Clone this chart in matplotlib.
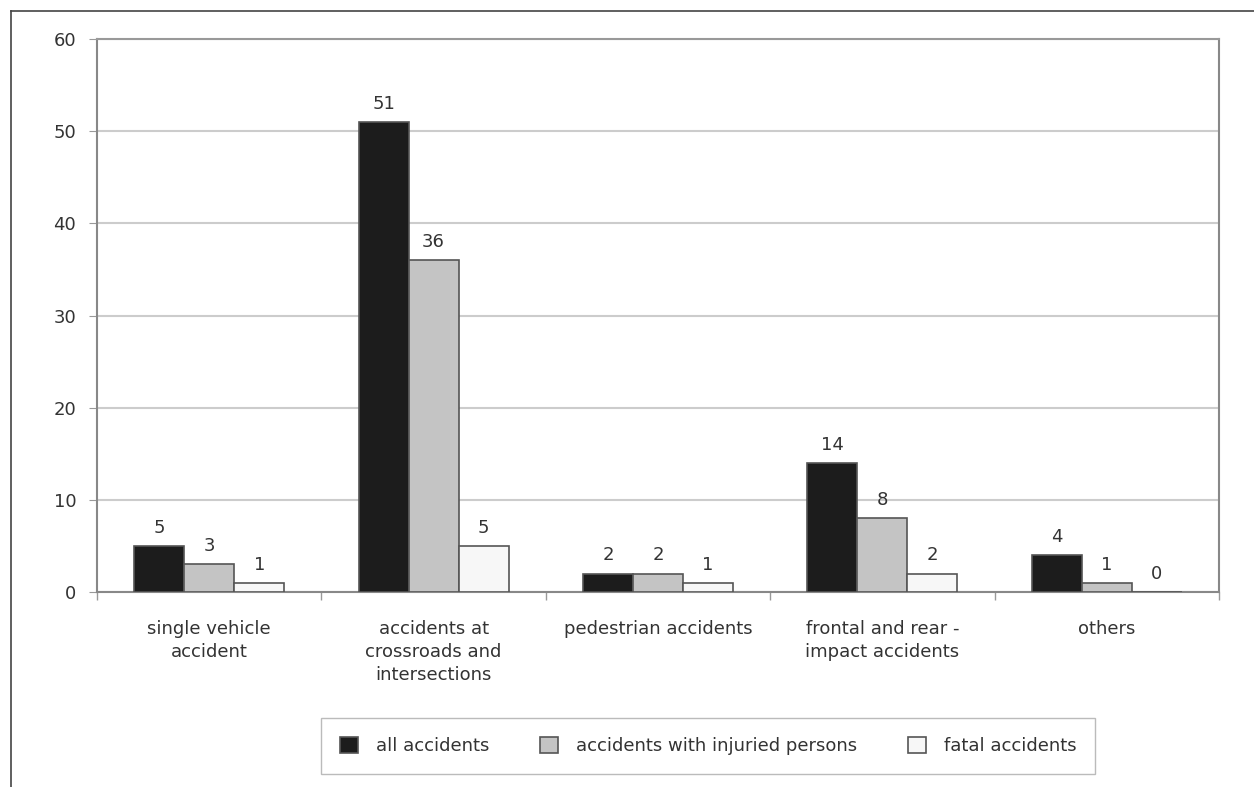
import numpy as np
import matplotlib.pyplot as plt
from matplotlib.lines import Line2D

plt.rcParams['font.family'] = ['DejaVu Sans']

categories = ["single vehicle\naccident", "accidents at\ncrossroads and\nintersections",
              "pedestrian accidents", "frontal and rear -\nimpact accidents", "others"]
all_acc = [5, 51, 2, 14, 4]
injured = [3, 36, 2, 8, 1]
fatal = [1, 5, 1, 2, 0]
series_names = ["all accidents", "accidents with injuried persons", "fatal accidents"]

fig = plt.figure(figsize=(12.54, 7.87), dpi=100)
ax = fig.add_axes([0.0774, 0.2478, 0.8946, 0.7026])

x = np.arange(len(categories))
w = 0.223
fs = 13
text_col = "#333333"
bars = []
for i, (vals, fc) in enumerate(zip([all_acc, injured, fatal], ["#1c1c1c", "#c4c4c4", "#f7f7f7"])):
    b = ax.bar(x + (i - 1) * w, vals, w, color=fc, edgecolor="#555555", linewidth=1.2,
               label=series_names[i], zorder=3)
    bars.append(b)
    for xi, v in zip(x + (i - 1) * w, vals):
        ax.text(xi, v + 1.0, str(v), ha="center", va="bottom", fontsize=fs, color=text_col)

ax.set_xlim(-0.5, len(categories) - 0.5)
ax.set_ylim(0, 60)
ax.set_yticks(range(0, 61, 10))
ax.yaxis.grid(True, color="#cccccc", linewidth=1.5, zorder=0)
ax.set_axisbelow(True)

ax.set_xticks(x)
ax.set_xticklabels(categories, fontsize=fs, color=text_col, linespacing=1.38)
ax.tick_params(axis="x", length=0, pad=20)
ax.set_xticks(np.arange(-0.5, len(categories)), minor=True)
ax.tick_params(axis="x", which="minor", length=6, color="#999999", width=1)
ax.tick_params(axis="y", length=6, color="#999999", labelsize=fs, labelcolor=text_col, pad=9)

for side in ["left", "right", "bottom"]:
    ax.spines[side].set_color("#888888")
    ax.spines[side].set_linewidth(1.5)
ax.spines["top"].set_color("#999999")
ax.spines["top"].set_linewidth(1.5)

fig.legend(handles=bars, labels=series_names, loc="center", ncol=3,
           bbox_to_anchor=(0.5646, 0.052), frameon=True, fancybox=False,
           edgecolor="#aaaaaa", fontsize=fs, handlelength=1.0, handleheight=1.0,
           columnspacing=2.8, borderpad=1.05, handletextpad=1.0, labelcolor=text_col)

# outer frame on the top and left edges
fig.add_artist(Line2D([11 / 1254, 1], [1 - 11 / 787] * 2, color="#444444", linewidth=1.2))
fig.add_artist(Line2D([11 / 1254] * 2, [0, 1 - 11 / 787], color="#444444", linewidth=1.2))

fig.savefig("out.png", dpi=100)
